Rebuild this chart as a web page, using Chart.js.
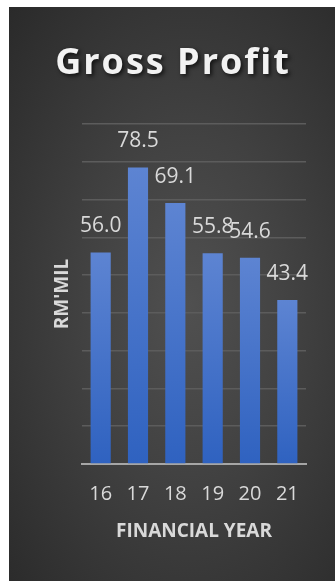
<!DOCTYPE html>
<html>
<head>
<meta charset="utf-8">
<script src="https://cdn.jsdelivr.net/npm/chart.js@4"></script>
<style>
  html, body { margin: 0; padding: 0; background: #ffffff; width: 335px; height: 581px; overflow: hidden; }
  #panel {
    position: absolute; left: 9px; top: 7px; width: 326px; height: 574px;
    background: radial-gradient(ellipse farthest-corner at 55% 52%, #505050 0%, #424242 40%, #2a2a2a 100%);
  }
  canvas { display: block; }
</style>
</head>
<body>
<div id="panel"><canvas id="c" width="326" height="574"></canvas></div>
<script>
const chartTitle = "Gross Profit";
const categories = ["16", "17", "18", "19", "20", "21"];
const grossProfit = [56.0, 78.5, 69.1, 55.8, 54.6, 43.4];
const xAxisTitle = "FINANCIAL YEAR";
const yAxisTitle = "RM'MIL";
const yMax = 90;
const yStep = 10;

const titlePlugin = {
  id: 'customTitle',
  afterDraw(chart) {
    const ctx = chart.ctx;
    ctx.save();
    ctx.font = "bold 36px 'Open Sans'";
    ctx.letterSpacing = "2px";
    ctx.textAlign = "center";
    ctx.textBaseline = "middle";
    ctx.shadowColor = "rgba(0,0,0,0.7)";
    ctx.shadowBlur = 4;
    ctx.shadowOffsetX = 2;
    ctx.shadowOffsetY = 2;
    ctx.fillStyle = "#f2f2f2";
    ctx.fillText(chartTitle, 164, 57);
    ctx.restore();
  }
};

const valueLabels = {
  id: 'valueLabels',
  afterDatasetsDraw(chart) {
    const ctx = chart.ctx;
    const meta = chart.getDatasetMeta(0);
    ctx.save();
    ctx.font = "21px 'Open Sans'";
    ctx.fillStyle = "#d9d9d9";
    ctx.textAlign = "center";
    ctx.textBaseline = "middle";
    meta.data.forEach((bar, i) => {
      ctx.fillText(grossProfit[i].toFixed(1), bar.x, bar.y - 26);
    });
    ctx.restore();
  }
};

new Chart(document.getElementById('c'), {
  type: 'bar',
  data: {
    labels: categories,
    datasets: [{
      data: grossProfit,
      backgroundColor(context) {
        const chart = context.chart;
        if (!chart.chartArea || context.raw === undefined) return '#4472c4';
        const y = chart.scales.y;
        const top = y.getPixelForValue(context.raw);
        const bottom = y.getPixelForValue(0);
        const g = chart.ctx.createLinearGradient(0, top, 0, bottom);
        g.addColorStop(0, '#5d84d2');
        g.addColorStop(1, '#2f62c0');
        return g;
      },
      borderWidth: 0,
      categoryPercentage: 1.0,
      barPercentage: 0.54
    }]
  },
  options: {
    responsive: false,
    animation: false,
    layout: { padding: { top: 117, right: 29, left: 0, bottom: 0 } },
    plugins: {
      legend: { display: false },
      title: { display: false },
      tooltip: { enabled: false }
    },
    scales: {
      x: {
        grid: { display: false, drawTicks: false },
        border: { display: true, color: '#a6a6a6', width: 2 },
        ticks: { color: '#d9d9d9', font: { family: "'Open Sans'", size: 20 }, padding: 18 },
        title: {
          display: true, text: xAxisTitle, color: '#d9d9d9',
          font: { family: "'Open Sans'", size: 19, weight: 'bold' },
          padding: { top: -3.4, bottom: 37.6 }
        }
      },
      y: {
        min: 0, max: yMax,
        ticks: { display: false, stepSize: yStep },
        grid: { color: '#5c5c5c', lineWidth: 1.5, drawTicks: false },
        border: { display: false },
        title: {
          display: true, text: yAxisTitle, color: '#d9d9d9',
          font: { family: "'Open Sans'", size: 19, weight: 'bold' },
          padding: { top: 42.6, bottom: 7.6 }
        }
      }
    }
  },
  plugins: [titlePlugin, valueLabels]
});
</script>
</body>
</html>
